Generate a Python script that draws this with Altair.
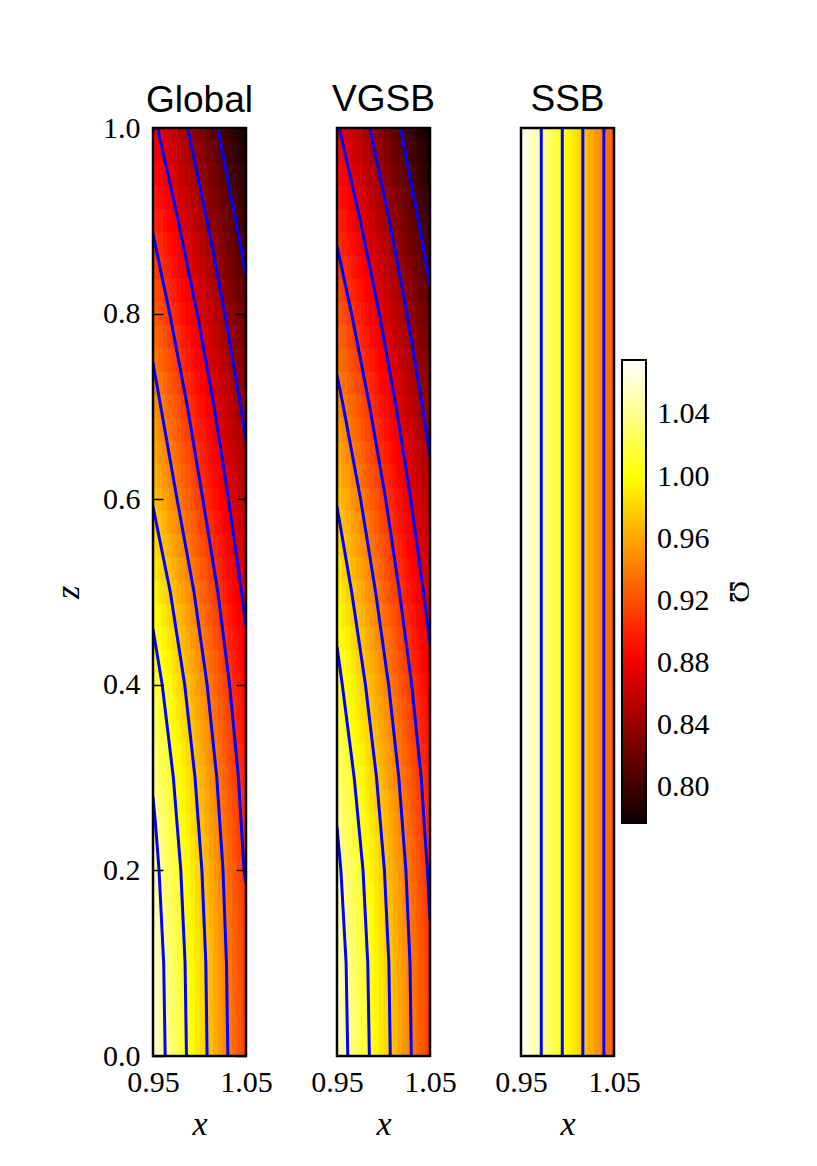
import altair as alt
import pandas as pd

# ---------------- data ----------------
X_CENTERS = [0.9525, 0.9575, 0.9625, 0.9675, 0.9725, 0.9775, 0.9825, 0.9875, 0.9925, 0.9975,
             1.0025, 1.0075, 1.0125, 1.0175, 1.0225, 1.0275, 1.0325, 1.0375, 1.0425, 1.0475]
Z_CENTERS = [0.000, 0.025, 0.050, 0.075, 0.100, 0.125, 0.150, 0.175, 0.200, 0.225,
             0.250, 0.275, 0.300, 0.325, 0.350, 0.375, 0.400, 0.425, 0.450, 0.475,
             0.500, 0.525, 0.550, 0.575, 0.600, 0.625, 0.650, 0.675, 0.700, 0.725,
             0.750, 0.775, 0.800, 0.825, 0.850, 0.875, 0.900, 0.925, 0.950, 0.975, 1.000]

# Omega for the Global model, one row per z (bottom to top), one value per x column
GLOBAL_OMEGA = [
    [1.058, 1.050, 1.043, 1.036, 1.028, 1.021, 1.013, 1.006, 0.998, 0.991, 0.984, 0.976, 0.969, 0.961, 0.954, 0.946, 0.939, 0.932, 0.924, 0.917],
    [1.058, 1.050, 1.043, 1.035, 1.028, 1.021, 1.013, 1.006, 0.998, 0.991, 0.983, 0.976, 0.969, 0.961, 0.954, 0.946, 0.939, 0.932, 0.924, 0.917],
    [1.057, 1.050, 1.042, 1.035, 1.028, 1.020, 1.013, 1.005, 0.998, 0.991, 0.983, 0.976, 0.968, 0.961, 0.953, 0.946, 0.939, 0.931, 0.924, 0.916],
    [1.056, 1.049, 1.042, 1.034, 1.027, 1.019, 1.012, 1.005, 0.997, 0.990, 0.982, 0.975, 0.968, 0.960, 0.953, 0.945, 0.938, 0.931, 0.923, 0.916],
    [1.055, 1.048, 1.041, 1.033, 1.026, 1.018, 1.011, 1.004, 0.996, 0.989, 0.982, 0.974, 0.967, 0.959, 0.952, 0.945, 0.937, 0.930, 0.922, 0.915],
    [1.054, 1.047, 1.039, 1.032, 1.024, 1.017, 1.010, 1.002, 0.995, 0.988, 0.980, 0.973, 0.966, 0.958, 0.951, 0.943, 0.936, 0.929, 0.921, 0.914],
    [1.052, 1.045, 1.038, 1.030, 1.023, 1.016, 1.008, 1.001, 0.994, 0.986, 0.979, 0.972, 0.964, 0.957, 0.950, 0.942, 0.935, 0.928, 0.920, 0.913],
    [1.050, 1.043, 1.036, 1.028, 1.021, 1.014, 1.006, 0.999, 0.992, 0.984, 0.977, 0.970, 0.963, 0.955, 0.948, 0.941, 0.933, 0.926, 0.919, 0.911],
    [1.048, 1.041, 1.033, 1.026, 1.019, 1.012, 1.004, 0.997, 0.990, 0.982, 0.975, 0.968, 0.961, 0.953, 0.946, 0.939, 0.932, 0.924, 0.917, 0.910],
    [1.045, 1.038, 1.031, 1.024, 1.016, 1.009, 1.002, 0.995, 0.987, 0.980, 0.973, 0.966, 0.958, 0.951, 0.944, 0.937, 0.930, 0.922, 0.915, 0.908],
    [1.042, 1.035, 1.028, 1.021, 1.014, 1.006, 0.999, 0.992, 0.985, 0.978, 0.970, 0.963, 0.956, 0.949, 0.942, 0.935, 0.927, 0.920, 0.913, 0.906],
    [1.039, 1.032, 1.025, 1.018, 1.011, 1.003, 0.996, 0.989, 0.982, 0.975, 0.968, 0.961, 0.953, 0.946, 0.939, 0.932, 0.925, 0.918, 0.911, 0.904],
    [1.035, 1.028, 1.021, 1.014, 1.007, 1.000, 0.993, 0.986, 0.979, 0.972, 0.965, 0.958, 0.950, 0.943, 0.936, 0.929, 0.922, 0.915, 0.908, 0.901],
    [1.032, 1.025, 1.018, 1.011, 1.004, 0.997, 0.990, 0.983, 0.976, 0.968, 0.961, 0.954, 0.947, 0.940, 0.933, 0.926, 0.919, 0.912, 0.905, 0.898],
    [1.027, 1.020, 1.014, 1.007, 1.000, 0.993, 0.986, 0.979, 0.972, 0.965, 0.958, 0.951, 0.944, 0.937, 0.930, 0.923, 0.916, 0.909, 0.902, 0.895],
    [1.023, 1.016, 1.009, 1.002, 0.995, 0.988, 0.982, 0.975, 0.968, 0.961, 0.954, 0.947, 0.940, 0.933, 0.927, 0.920, 0.913, 0.906, 0.899, 0.892],
    [1.018, 1.011, 1.005, 0.998, 0.991, 0.984, 0.977, 0.970, 0.964, 0.957, 0.950, 0.943, 0.936, 0.930, 0.923, 0.916, 0.909, 0.902, 0.896, 0.889],
    [1.013, 1.006, 1.000, 0.993, 0.986, 0.979, 0.973, 0.966, 0.959, 0.952, 0.946, 0.939, 0.932, 0.926, 0.919, 0.912, 0.905, 0.899, 0.892, 0.885],
    [1.008, 1.001, 0.994, 0.988, 0.981, 0.974, 0.968, 0.961, 0.954, 0.948, 0.941, 0.934, 0.928, 0.921, 0.915, 0.908, 0.901, 0.895, 0.888, 0.881],
    [1.002, 0.995, 0.989, 0.982, 0.976, 0.969, 0.963, 0.956, 0.949, 0.943, 0.936, 0.930, 0.923, 0.917, 0.910, 0.904, 0.897, 0.890, 0.884, 0.877],
    [0.996, 0.989, 0.983, 0.976, 0.970, 0.963, 0.957, 0.951, 0.944, 0.938, 0.931, 0.925, 0.918, 0.912, 0.905, 0.899, 0.892, 0.886, 0.879, 0.873],
    [0.989, 0.983, 0.977, 0.970, 0.964, 0.958, 0.951, 0.945, 0.939, 0.932, 0.926, 0.920, 0.913, 0.907, 0.901, 0.894, 0.888, 0.882, 0.875, 0.869],
    [0.983, 0.977, 0.970, 0.964, 0.958, 0.952, 0.946, 0.939, 0.933, 0.927, 0.921, 0.914, 0.908, 0.902, 0.896, 0.890, 0.883, 0.877, 0.871, 0.865],
    [0.976, 0.970, 0.964, 0.958, 0.952, 0.946, 0.939, 0.933, 0.927, 0.921, 0.915, 0.909, 0.903, 0.897, 0.891, 0.885, 0.879, 0.873, 0.867, 0.861],
    [0.970, 0.964, 0.958, 0.952, 0.946, 0.940, 0.934, 0.928, 0.922, 0.916, 0.910, 0.904, 0.898, 0.892, 0.886, 0.880, 0.874, 0.868, 0.862, 0.856],
    [0.964, 0.958, 0.952, 0.946, 0.941, 0.935, 0.929, 0.923, 0.917, 0.911, 0.905, 0.899, 0.893, 0.888, 0.882, 0.876, 0.870, 0.864, 0.858, 0.852],
    [0.959, 0.953, 0.947, 0.942, 0.936, 0.930, 0.924, 0.918, 0.912, 0.906, 0.901, 0.895, 0.889, 0.883, 0.877, 0.871, 0.866, 0.860, 0.854, 0.848],
    [0.954, 0.948, 0.943, 0.937, 0.931, 0.925, 0.919, 0.914, 0.908, 0.902, 0.896, 0.890, 0.885, 0.879, 0.873, 0.867, 0.861, 0.856, 0.850, 0.844],
    [0.949, 0.943, 0.937, 0.931, 0.926, 0.920, 0.914, 0.908, 0.903, 0.897, 0.891, 0.885, 0.880, 0.874, 0.868, 0.862, 0.857, 0.851, 0.845, 0.839],
    [0.943, 0.937, 0.932, 0.926, 0.920, 0.915, 0.909, 0.903, 0.898, 0.892, 0.886, 0.880, 0.875, 0.869, 0.863, 0.858, 0.852, 0.846, 0.840, 0.835],
    [0.938, 0.932, 0.926, 0.921, 0.915, 0.909, 0.904, 0.898, 0.892, 0.887, 0.881, 0.875, 0.870, 0.864, 0.858, 0.853, 0.847, 0.841, 0.836, 0.830],
    [0.932, 0.927, 0.921, 0.915, 0.910, 0.904, 0.898, 0.893, 0.887, 0.882, 0.876, 0.870, 0.865, 0.859, 0.853, 0.848, 0.842, 0.837, 0.831, 0.825],
    [0.926, 0.921, 0.915, 0.910, 0.904, 0.898, 0.893, 0.887, 0.882, 0.876, 0.871, 0.865, 0.860, 0.854, 0.848, 0.843, 0.837, 0.832, 0.826, 0.821],
    [0.920, 0.915, 0.909, 0.904, 0.898, 0.893, 0.887, 0.882, 0.876, 0.871, 0.865, 0.860, 0.854, 0.849, 0.843, 0.838, 0.832, 0.827, 0.821, 0.816],
    [0.914, 0.909, 0.903, 0.898, 0.893, 0.887, 0.882, 0.876, 0.871, 0.865, 0.860, 0.854, 0.849, 0.844, 0.838, 0.833, 0.827, 0.822, 0.816, 0.811],
    [0.908, 0.903, 0.898, 0.892, 0.887, 0.881, 0.876, 0.871, 0.865, 0.860, 0.855, 0.849, 0.844, 0.838, 0.833, 0.828, 0.822, 0.817, 0.811, 0.806],
    [0.902, 0.897, 0.892, 0.886, 0.881, 0.876, 0.870, 0.865, 0.860, 0.854, 0.849, 0.844, 0.838, 0.833, 0.828, 0.822, 0.817, 0.812, 0.806, 0.801],
    [0.896, 0.891, 0.886, 0.881, 0.875, 0.870, 0.865, 0.860, 0.854, 0.849, 0.844, 0.838, 0.833, 0.828, 0.823, 0.817, 0.812, 0.807, 0.802, 0.796],
    [0.890, 0.885, 0.880, 0.875, 0.870, 0.864, 0.859, 0.854, 0.849, 0.844, 0.838, 0.833, 0.828, 0.823, 0.817, 0.812, 0.807, 0.802, 0.797, 0.791],
    [0.884, 0.879, 0.874, 0.869, 0.864, 0.859, 0.853, 0.848, 0.843, 0.838, 0.833, 0.828, 0.823, 0.817, 0.812, 0.807, 0.802, 0.797, 0.792, 0.786],
    [0.878, 0.873, 0.868, 0.863, 0.858, 0.853, 0.848, 0.843, 0.838, 0.833, 0.827, 0.822, 0.817, 0.812, 0.807, 0.802, 0.797, 0.792, 0.787, 0.782],
]

VGSB_OMEGA = [
    [1.055, 1.048, 1.041, 1.033, 1.026, 1.019, 1.011, 1.004, 0.997, 0.989, 0.982, 0.975, 0.967, 0.960, 0.953, 0.945, 0.938, 0.931, 0.923, 0.916],
    [1.055, 1.048, 1.041, 1.033, 1.026, 1.019, 1.011, 1.004, 0.997, 0.989, 0.982, 0.975, 0.967, 0.960, 0.953, 0.945, 0.938, 0.931, 0.923, 0.916],
    [1.055, 1.047, 1.040, 1.033, 1.025, 1.018, 1.011, 1.003, 0.996, 0.989, 0.981, 0.974, 0.967, 0.960, 0.952, 0.945, 0.938, 0.930, 0.923, 0.916],
    [1.054, 1.047, 1.039, 1.032, 1.025, 1.017, 1.010, 1.003, 0.996, 0.988, 0.981, 0.974, 0.966, 0.959, 0.952, 0.944, 0.937, 0.930, 0.923, 0.915],
    [1.053, 1.045, 1.038, 1.031, 1.023, 1.016, 1.009, 1.002, 0.994, 0.987, 0.980, 0.973, 0.965, 0.958, 0.951, 0.943, 0.936, 0.929, 0.922, 0.914],
    [1.051, 1.044, 1.036, 1.029, 1.022, 1.015, 1.007, 1.000, 0.993, 0.986, 0.978, 0.971, 0.964, 0.957, 0.949, 0.942, 0.935, 0.928, 0.920, 0.913],
    [1.049, 1.042, 1.035, 1.027, 1.020, 1.013, 1.006, 0.999, 0.991, 0.984, 0.977, 0.970, 0.962, 0.955, 0.948, 0.941, 0.934, 0.926, 0.919, 0.912],
    [1.047, 1.040, 1.033, 1.025, 1.018, 1.011, 1.004, 0.997, 0.989, 0.982, 0.975, 0.968, 0.961, 0.954, 0.946, 0.939, 0.932, 0.925, 0.918, 0.910],
    [1.044, 1.037, 1.030, 1.023, 1.016, 1.009, 1.002, 0.994, 0.987, 0.980, 0.973, 0.966, 0.959, 0.951, 0.944, 0.937, 0.930, 0.923, 0.916, 0.909],
    [1.041, 1.034, 1.027, 1.020, 1.013, 1.006, 0.999, 0.992, 0.985, 0.978, 0.971, 0.963, 0.956, 0.949, 0.942, 0.935, 0.928, 0.921, 0.914, 0.907],
    [1.038, 1.031, 1.024, 1.017, 1.010, 1.003, 0.996, 0.989, 0.982, 0.975, 0.968, 0.961, 0.954, 0.947, 0.940, 0.932, 0.925, 0.918, 0.911, 0.904],
    [1.034, 1.027, 1.020, 1.013, 1.006, 0.999, 0.992, 0.985, 0.978, 0.972, 0.965, 0.958, 0.951, 0.944, 0.937, 0.930, 0.923, 0.916, 0.909, 0.902],
    [1.030, 1.023, 1.016, 1.009, 1.003, 0.996, 0.989, 0.982, 0.975, 0.968, 0.961, 0.954, 0.947, 0.941, 0.934, 0.927, 0.920, 0.913, 0.906, 0.899],
    [1.026, 1.019, 1.012, 1.005, 0.998, 0.992, 0.985, 0.978, 0.971, 0.964, 0.958, 0.951, 0.944, 0.937, 0.930, 0.924, 0.917, 0.910, 0.903, 0.896],
    [1.021, 1.014, 1.008, 1.001, 0.994, 0.988, 0.981, 0.974, 0.967, 0.961, 0.954, 0.947, 0.940, 0.934, 0.927, 0.920, 0.914, 0.907, 0.900, 0.893],
    [1.017, 1.010, 1.003, 0.997, 0.990, 0.983, 0.977, 0.970, 0.963, 0.957, 0.950, 0.943, 0.937, 0.930, 0.923, 0.917, 0.910, 0.903, 0.897, 0.890],
    [1.012, 1.006, 0.999, 0.992, 0.986, 0.979, 0.972, 0.966, 0.959, 0.953, 0.946, 0.939, 0.933, 0.926, 0.919, 0.913, 0.906, 0.900, 0.893, 0.886],
    [1.008, 1.001, 0.995, 0.988, 0.981, 0.975, 0.968, 0.962, 0.955, 0.948, 0.942, 0.935, 0.929, 0.922, 0.915, 0.909, 0.902, 0.896, 0.889, 0.882],
    [1.003, 0.996, 0.990, 0.983, 0.976, 0.970, 0.963, 0.957, 0.950, 0.944, 0.937, 0.931, 0.924, 0.918, 0.911, 0.905, 0.898, 0.892, 0.885, 0.878],
    [0.997, 0.991, 0.984, 0.978, 0.971, 0.965, 0.958, 0.952, 0.945, 0.939, 0.933, 0.926, 0.920, 0.913, 0.907, 0.900, 0.894, 0.887, 0.881, 0.874],
    [0.992, 0.986, 0.979, 0.973, 0.966, 0.960, 0.954, 0.947, 0.941, 0.934, 0.928, 0.921, 0.915, 0.909, 0.902, 0.896, 0.889, 0.883, 0.877, 0.870],
    [0.987, 0.980, 0.974, 0.968, 0.961, 0.955, 0.949, 0.942, 0.936, 0.930, 0.923, 0.917, 0.910, 0.904, 0.898, 0.891, 0.885, 0.879, 0.872, 0.866],
    [0.981, 0.975, 0.969, 0.962, 0.956, 0.950, 0.944, 0.937, 0.931, 0.925, 0.918, 0.912, 0.906, 0.900, 0.893, 0.887, 0.881, 0.875, 0.868, 0.862],
    [0.976, 0.970, 0.963, 0.957, 0.951, 0.945, 0.939, 0.932, 0.926, 0.920, 0.914, 0.908, 0.901, 0.895, 0.889, 0.883, 0.877, 0.870, 0.864, 0.858],
    [0.970, 0.964, 0.958, 0.952, 0.946, 0.939, 0.933, 0.927, 0.921, 0.915, 0.909, 0.903, 0.897, 0.891, 0.884, 0.878, 0.872, 0.866, 0.860, 0.854],
    [0.964, 0.958, 0.952, 0.946, 0.940, 0.934, 0.928, 0.922, 0.916, 0.910, 0.904, 0.898, 0.892, 0.886, 0.880, 0.874, 0.868, 0.862, 0.856, 0.850],
    [0.959, 0.953, 0.947, 0.941, 0.935, 0.929, 0.923, 0.917, 0.911, 0.905, 0.899, 0.893, 0.887, 0.881, 0.875, 0.869, 0.863, 0.857, 0.851, 0.845],
    [0.953, 0.947, 0.941, 0.935, 0.929, 0.923, 0.917, 0.912, 0.906, 0.900, 0.894, 0.888, 0.882, 0.876, 0.870, 0.865, 0.859, 0.853, 0.847, 0.841],
    [0.947, 0.941, 0.935, 0.930, 0.924, 0.918, 0.912, 0.906, 0.901, 0.895, 0.889, 0.883, 0.877, 0.871, 0.866, 0.860, 0.854, 0.848, 0.842, 0.837],
    [0.941, 0.935, 0.930, 0.924, 0.918, 0.912, 0.907, 0.901, 0.895, 0.889, 0.884, 0.878, 0.872, 0.866, 0.861, 0.855, 0.849, 0.843, 0.838, 0.832],
    [0.935, 0.930, 0.924, 0.918, 0.913, 0.907, 0.901, 0.896, 0.890, 0.884, 0.879, 0.873, 0.867, 0.862, 0.856, 0.850, 0.845, 0.839, 0.833, 0.827],
    [0.929, 0.924, 0.918, 0.913, 0.907, 0.901, 0.896, 0.890, 0.885, 0.879, 0.873, 0.868, 0.862, 0.857, 0.851, 0.845, 0.840, 0.834, 0.828, 0.823],
    [0.924, 0.918, 0.913, 0.907, 0.901, 0.896, 0.890, 0.885, 0.879, 0.874, 0.868, 0.863, 0.857, 0.852, 0.846, 0.841, 0.835, 0.829, 0.824, 0.818],
    [0.918, 0.912, 0.907, 0.901, 0.896, 0.890, 0.885, 0.880, 0.874, 0.869, 0.863, 0.858, 0.852, 0.847, 0.841, 0.836, 0.830, 0.825, 0.819, 0.814],
    [0.912, 0.906, 0.901, 0.896, 0.890, 0.885, 0.879, 0.874, 0.869, 0.863, 0.858, 0.852, 0.847, 0.842, 0.836, 0.831, 0.825, 0.820, 0.815, 0.809],
    [0.906, 0.900, 0.895, 0.890, 0.885, 0.879, 0.874, 0.868, 0.863, 0.858, 0.852, 0.847, 0.842, 0.837, 0.831, 0.826, 0.821, 0.815, 0.810, 0.805],
    [0.900, 0.895, 0.889, 0.884, 0.879, 0.874, 0.868, 0.863, 0.858, 0.852, 0.847, 0.842, 0.837, 0.831, 0.826, 0.821, 0.816, 0.810, 0.805, 0.800],
    [0.894, 0.889, 0.884, 0.878, 0.873, 0.868, 0.863, 0.858, 0.852, 0.847, 0.842, 0.837, 0.832, 0.826, 0.821, 0.816, 0.811, 0.805, 0.800, 0.795],
    [0.888, 0.883, 0.878, 0.873, 0.867, 0.862, 0.857, 0.852, 0.847, 0.842, 0.837, 0.831, 0.826, 0.821, 0.816, 0.811, 0.806, 0.801, 0.795, 0.790],
    [0.882, 0.877, 0.872, 0.867, 0.862, 0.857, 0.851, 0.846, 0.841, 0.836, 0.831, 0.826, 0.821, 0.816, 0.811, 0.806, 0.801, 0.796, 0.791, 0.785],
    [0.876, 0.871, 0.866, 0.861, 0.856, 0.851, 0.846, 0.841, 0.836, 0.831, 0.826, 0.821, 0.816, 0.811, 0.806, 0.801, 0.796, 0.791, 0.786, 0.781],
]

# SSB: Omega depends on x only
SSB_X_CENTERS = [0.95125, 0.95375, 0.95625, 0.95875, 0.96125, 0.96375, 0.96625, 0.96875, 0.97125, 0.97375,
                 0.97625, 0.97875, 0.98125, 0.98375, 0.98625, 0.98875, 0.99125, 0.99375, 0.99625, 0.99875,
                 1.00125, 1.00375, 1.00625, 1.00875, 1.01125, 1.01375, 1.01625, 1.01875, 1.02125, 1.02375,
                 1.02625, 1.02875, 1.03125, 1.03375, 1.03625, 1.03875, 1.04125, 1.04375, 1.04625, 1.04875]
SSB_OMEGA = [1.073, 1.069, 1.066, 1.062, 1.058, 1.054, 1.051, 1.047, 1.043, 1.039,
             1.036, 1.032, 1.028, 1.024, 1.021, 1.017, 1.013, 1.009, 1.006, 1.002,
             0.998, 0.994, 0.991, 0.987, 0.983, 0.979, 0.976, 0.972, 0.968, 0.964,
             0.961, 0.957, 0.953, 0.949, 0.946, 0.942, 0.938, 0.934, 0.931, 0.927]

# contour lines (levels and traced points)
CONTOUR_LEVELS = [0.810, 0.843, 0.876, 0.909, 0.942, 0.975, 1.008, 1.042]
GLOBAL_CONTOUR_X = [
    [1.0196, 1.0392, 1.05],
    [0.9873, 1.0082, 1.0273, 1.0443, 1.05],
    [0.9549, 0.9772, 0.9976, 1.0157, 1.0312, 1.0452, 1.05],
    [0.95, 0.968, 0.987, 1.0036, 1.0197, 1.0324, 1.0419, 1.0479, 1.05],
    [0.95, 0.9583, 0.9759, 0.9941, 1.0082, 1.0186, 1.0253, 1.029, 1.0305],
    [0.95, 0.9686, 0.9841, 0.9952, 1.0026, 1.0068, 1.0082],
    [0.95, 0.9599, 0.9719, 0.9799, 0.9845, 0.986],
    [0.95, 0.9527, 0.9565, 0.9615, 0.9631],
]
GLOBAL_CONTOUR_Z = [
    [1.0, 0.9, 0.841],
    [1.0, 0.9, 0.8, 0.7, 0.663],
    [1.0, 0.9, 0.8, 0.7, 0.6, 0.5, 0.463],
    [0.886, 0.8, 0.7, 0.6, 0.5, 0.4, 0.3, 0.2, 0.186],
    [0.747, 0.7, 0.6, 0.5, 0.4, 0.3, 0.2, 0.1, 0.0],
    [0.592, 0.5, 0.4, 0.3, 0.2, 0.1, 0.0],
    [0.46, 0.4, 0.3, 0.2, 0.1, 0.0],
    [0.279, 0.25, 0.2, 0.1, 0.0],
]
VGSB_CONTOUR_X = [
    [1.0182, 1.0378, 1.05],
    [0.9853, 1.0065, 1.0253, 1.0419, 1.05],
    [0.9525, 0.9751, 0.9955, 1.0135, 1.0293, 1.043, 1.05],
    [0.95, 0.9657, 0.9852, 1.0024, 1.0172, 1.0304, 1.0405, 1.0472, 1.05],
    [0.95, 0.9568, 0.9754, 0.9915, 1.0055, 1.0165, 1.0241, 1.0285, 1.0299],
    [0.95, 0.9658, 0.9806, 0.9925, 1.001, 1.0058, 1.0073],
    [0.95, 0.9557, 0.9685, 0.978, 0.9831, 0.9848],
    [0.95, 0.9542, 0.9598, 0.9616],
]
VGSB_CONTOUR_Z = [
    [1.0, 0.9, 0.831],
    [1.0, 0.9, 0.8, 0.7, 0.647],
    [1.0, 0.9, 0.8, 0.7, 0.6, 0.5, 0.444],
    [0.873, 0.8, 0.7, 0.6, 0.5, 0.4, 0.3, 0.2, 0.147],
    [0.734, 0.7, 0.6, 0.5, 0.4, 0.3, 0.2, 0.1, 0.0],
    [0.592, 0.5, 0.4, 0.3, 0.2, 0.1, 0.0],
    [0.441, 0.4, 0.3, 0.2, 0.1, 0.0],
    [0.247, 0.2, 0.1, 0.0],
]
SSB_CONTOUR_LEVELS = [1.042, 1.008, 0.975, 0.942]
SSB_CONTOUR_X = [0.9718, 0.9944, 1.0165, 1.0391]

X_TICKS = [0.95, 1.05]
Z_TICKS = [0.0, 0.2, 0.4, 0.6, 0.8, 1.0]
CBAR_TICKS = [0.80, 0.84, 0.88, 0.92, 0.96, 1.00, 1.04]
X_RANGE = [0.95, 1.05]
Z_RANGE = [0.0, 1.0]

# "hot" colour map anchored on the colour bar limits
HOT_STOPS = [0.777, 0.886, 0.999, 1.075]
HOT_COLORS = ["#0b0000", "#ff0000", "#ffff00", "#ffffff"]

# ---------------- build tables ----------------
# cells are widened very slightly so neighbouring cells overlap (no anti-alias seams)
def grid_table(xc, zc, omega):
    hx = (xc[1] - xc[0]) / 2
    hz = (zc[1] - zc[0]) / 2
    rows = []
    for j, z in enumerate(zc):
        for i, x in enumerate(xc):
            rows.append({"x0": x - hx, "x1": x + hx * 1.25, "z0": z - hz, "z1": z + hz * 1.12,
                         "omega": omega[j][i]})
    return pd.DataFrame(rows)


def ssb_table(xc, omega):
    hx = (xc[1] - xc[0]) / 2
    return pd.DataFrame([{"x0": x - hx, "x1": x + hx * 1.5, "z0": Z_RANGE[0], "z1": Z_RANGE[1],
                          "omega": o} for x, o in zip(xc, omega)])


def contour_table(levels, xs, zs):
    rows = []
    for lev, xl, zl in zip(levels, xs, zs):
        for k, (x, z) in enumerate(zip(xl, zl)):
            rows.append({"level": lev, "k": k, "x": x, "z": z})
    return pd.DataFrame(rows)


global_df = grid_table(X_CENTERS, Z_CENTERS, GLOBAL_OMEGA)
vgsb_df = grid_table(X_CENTERS, Z_CENTERS, VGSB_OMEGA)
ssb_df = ssb_table(SSB_X_CENTERS, SSB_OMEGA)
global_c = contour_table(CONTOUR_LEVELS, GLOBAL_CONTOUR_X, GLOBAL_CONTOUR_Z)
vgsb_c = contour_table(CONTOUR_LEVELS, VGSB_CONTOUR_X, VGSB_CONTOUR_Z)
ssb_c = contour_table(SSB_CONTOUR_LEVELS,
                      [[x, x] for x in SSB_CONTOUR_X],
                      [[Z_RANGE[0], Z_RANGE[1]] for _ in SSB_CONTOUR_X])
frame_df = pd.DataFrame({"x0": [X_RANGE[0]], "x1": [X_RANGE[1]],
                         "z0": [Z_RANGE[0]], "z1": [Z_RANGE[1]]})

# ---------------- chart ----------------
W, H = 93, 928
xscale = alt.Scale(domain=X_RANGE, nice=False, zero=False)
zscale = alt.Scale(domain=Z_RANGE, nice=False, zero=False)
cscale = alt.Scale(domain=HOT_STOPS, range=HOT_COLORS, interpolate="rgb")
legend = alt.Legend(values=CBAR_TICKS, format=".2f", title="Ω", type="gradient",
                    labelOffset=11)

x_axis = alt.Axis(values=X_TICKS, format=".2f", ticks=False, domain=False,
                  labelPadding=11, labelFlush=False, title="x", titlePadding=10)
z_axis_left = alt.Axis(values=Z_TICKS, format=".1f", tickSize=10, offset=-10,
                       domain=False, tickColor="black", tickWidth=1.5,
                       labelPadding=13, labelFlush=False, title="z",
                       titlePadding=17, zindex=1)
z_axis_right = alt.Axis(orient="right", values=Z_TICKS, tickSize=10, offset=-10,
                        domain=False, tickColor="black", tickWidth=1.5,
                        labels=False, title="", zindex=1)


def panel(df, cdf, title, first, title_offset):
    heat = alt.Chart(df).mark_rect(clip=True).encode(
        x=alt.X("x0:Q", scale=xscale, axis=x_axis),
        x2="x1",
        y=alt.Y("z0:Q", scale=zscale, axis=z_axis_left if first else None),
        y2="z1",
        color=alt.Color("omega:Q", scale=cscale, legend=legend),
    )
    lines = alt.Chart(cdf).mark_line(color="#0000ff", strokeWidth=3, clip=True).encode(
        x=alt.X("x:Q", scale=xscale, axis=x_axis),
        y=alt.Y("z:Q", scale=zscale, axis=z_axis_right if first else None),
        detail="level:N",
        order="k:Q",
    )
    frame = alt.Chart(frame_df).mark_rect(fillOpacity=0, stroke="black", strokeWidth=2.5).encode(
        x=alt.X("x0:Q", scale=xscale, axis=x_axis), x2="x1",
        y=alt.Y("z0:Q", scale=zscale, axis=None), y2="z1",
    )
    ch = alt.layer(heat, lines, frame).properties(
        width=W, height=H,
        title=alt.TitleParams(title, font="Liberation Sans", fontSize=37,
                              fontWeight="normal", color="black", anchor="middle",
                              baseline="alphabetic", offset=title_offset),
    )
    if first:
        ch = ch.resolve_axis(y="independent")
    return ch


chart = alt.hconcat(
    panel(global_df, global_c, "Global", True, -36),
    panel(vgsb_df, vgsb_c, "VGSB", False, -21),
    panel(ssb_df, ssb_c, "SSB", False, -21),
    spacing=91, bounds="flush",
).resolve_scale(color="shared").properties(
    padding={"left": 43, "top": 72, "right": 10, "bottom": 5},
    background="white",
).configure_view(stroke=None).configure_axis(
    labelFont="Liberation Serif", labelFontSize=30, labelColor="black",
    titleFont="Liberation Serif", titleFontSize=34, titleFontStyle="italic",
    titleFontWeight="normal", titleColor="black", grid=False,
).configure_legend(
    orient="none", legendX=469, legendY=232, direction="vertical",
    gradientLength=463, gradientThickness=24,
    gradientVerticalMaxLength=463, gradientVerticalMinLength=463,
    gradientStrokeColor="black", gradientStrokeWidth=2,
    labelFont="Liberation Serif", labelFontSize=30, labelColor="black",
    labelOverlap=False,
    titleFont="Liberation Serif", titleFontSize=30, titleFontWeight="normal",
    titleColor="black", titleOrient="right", titleAnchor="middle", titlePadding=14,
)

chart.save("out.html", embed_options={"renderer": "svg", "actions": False})
